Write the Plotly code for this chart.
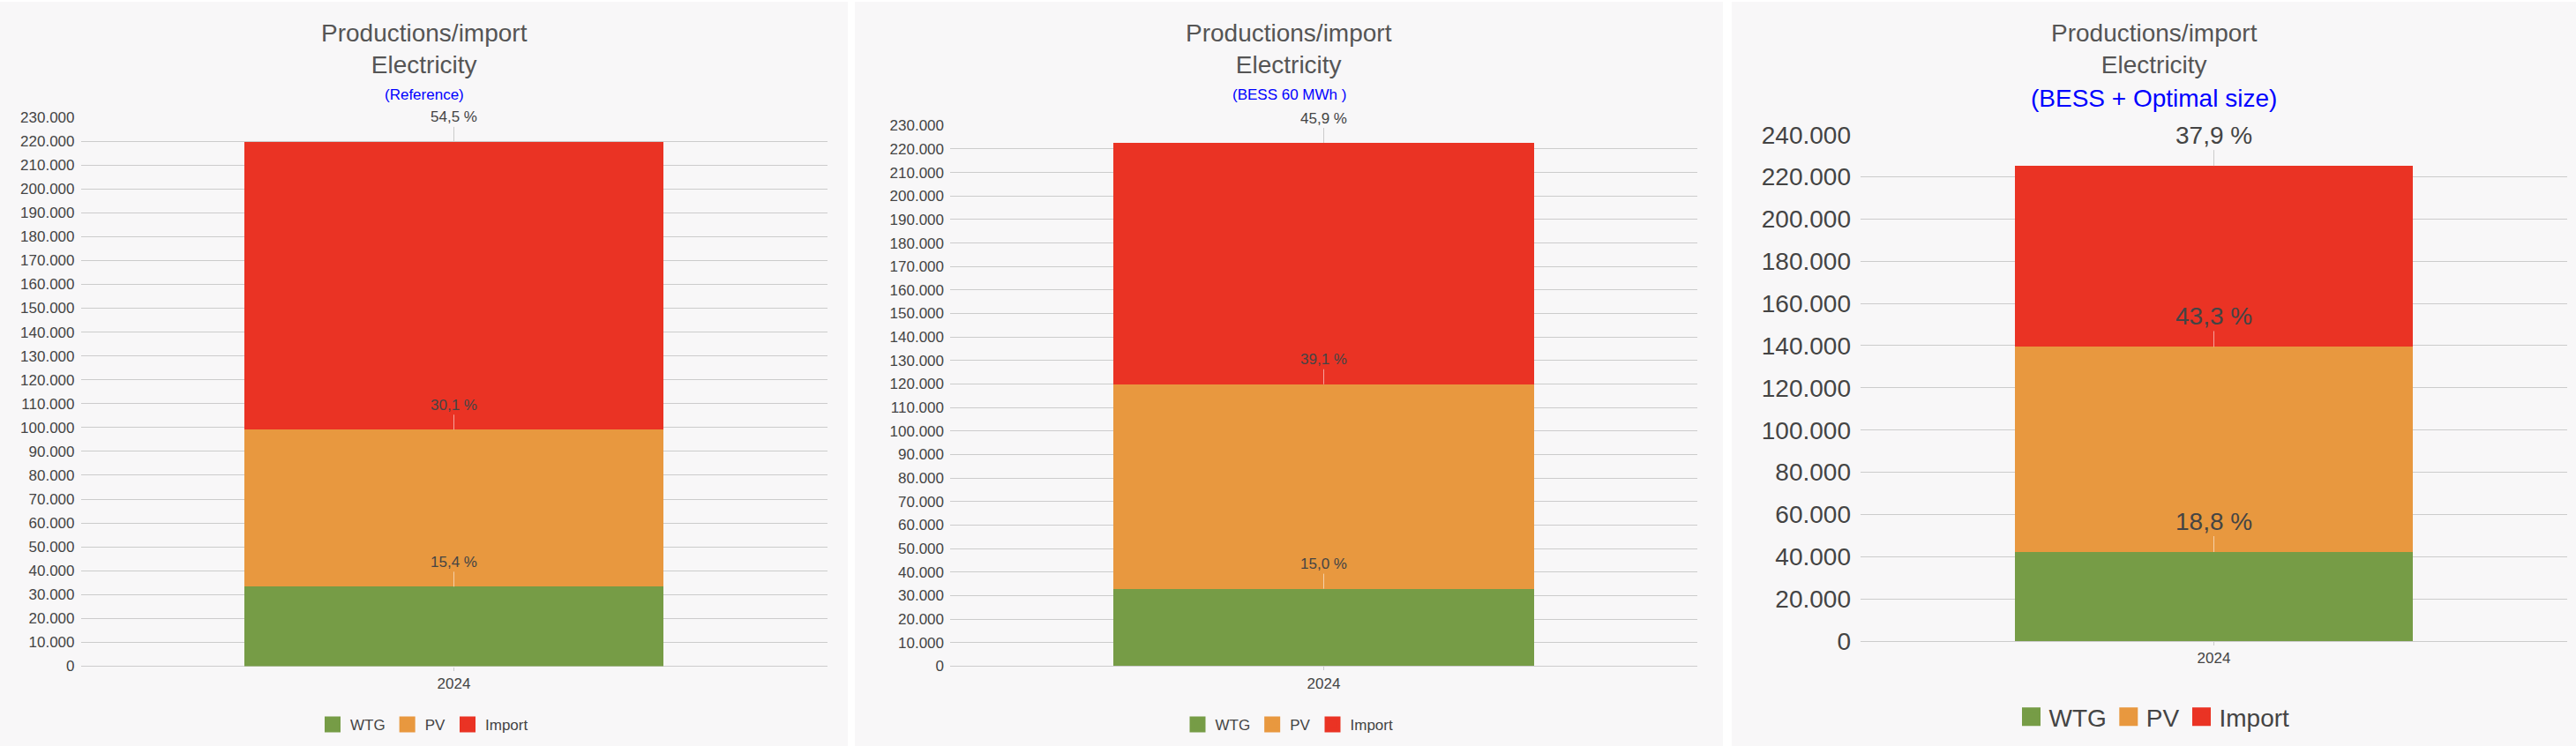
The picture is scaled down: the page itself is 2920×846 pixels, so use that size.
import plotly.graph_objects as go

W, H = 2920, 846

# ---------------- data ----------------
years = ["2024"]
series = ["WTG", "PV", "Import"]
series_colors = ["#769c46", "#e8983f", "#ea3324"]
scenarios = ["(Reference)", "(BESS 60 MWh )", "(BESS + Optimal size)"]

wtg = [33300, 32900, 42200]
pv = [65800, 87000, 97200]
imp = [120600, 102700, 85800]

share_wtg = ["15,4 %", "15,0 %", "18,8 %"]
share_pv = ["30,1 %", "39,1 %", "43,3 %"]
share_imp = ["54,5 %", "45,9 %", "37,9 %"]

y_max = [230000, 230000, 240000]
y_step = [10000, 10000, 20000]

title_lines = "Productions/import<br>Electricity"

# ---------------- layout constants (pixels) ----------------
panels = [
    dict(bg=(0, 961), plot=(91.5, 937.5, 133, 755.5), fs=17, lab_off=28, sub_y=107,
         leg_y=822, msize=13, standoff=6),
    dict(bg=(969, 1953), plot=(1077, 1924, 142.3, 755.3), fs=17, lab_off=28, sub_y=107,
         leg_y=822, msize=13, standoff=6),
    dict(bg=(1963, 2920), plot=(2109, 2910, 152.7, 727), fs=28, lab_off=35, sub_y=111,
         leg_y=813, msize=16, standoff=10),
]

FONT = "Liberation Sans, Arial, sans-serif"
TXT = "#444444"
TITLE_C = "#555555"
GRID = "#cccccc"
BAR_W = 0.5625

fig = go.Figure()
shapes = []
annotations = []
layout = {}

values = [wtg, pv, imp]
shares = [share_wtg, share_pv, share_imp]

for i, p in enumerate(panels):
    n = "" if i == 0 else str(i + 1)
    xa, ya = "x" + n, "y" + n
    leg = "legend" + n
    x0, x1, y0, y1 = p["plot"]
    fs = p["fs"]

    # panel background
    shapes.append(dict(type="rect", xref="paper", yref="paper", layer="below",
                       x0=p["bg"][0] / W, x1=p["bg"][1] / W, y0=0, y1=1 - 2 / H,
                       fillcolor="#f8f7f8", line=dict(width=0)))

    cum = 0
    for k, s in enumerate(series):
        v = values[k][i]
        fig.add_trace(go.Bar(x=years, y=[v], name=s, marker=dict(color=series_colors[k], line=dict(width=0)),
                             width=BAR_W, xaxis=xa, yaxis=ya, showlegend=False, hoverinfo="skip"))
        cum += v
        stem = "#cccccc" if k == len(series) - 1 else "rgba(255,255,255,0.55)"
        annotations.append(dict(xref=xa, yref=ya, x=0, y=cum, text=shares[k][i],
                                showarrow=True, arrowhead=0, arrowwidth=1, arrowcolor=stem,
                                ax=0, ay=-p["lab_off"], standoff=0, xanchor="center",
                                font=dict(family=FONT, size=fs, color=TXT)))
        # legend entry
        fig.add_trace(go.Scatter(x=[None], y=[None], mode="markers", name=s, legend=leg,
                                 marker=dict(symbol="square", size=p["msize"], color=series_colors[k],
                                             line=dict(width=5, color=series_colors[k])),
                                 xaxis=xa, yaxis=ya, hoverinfo="skip"))

    layout["xaxis" + n] = dict(domain=[x0 / W, x1 / W], anchor=ya, type="category",
                               range=[-0.5, 0.5], showgrid=False, zeroline=False,
                               ticks="outside", ticklen=4, tickcolor=GRID,
                               tickfont=dict(family=FONT, size=17, color=TXT), fixedrange=True,
                               automargin=False)
    layout["yaxis" + n] = dict(domain=[1 - y1 / H, 1 - y0 / H], anchor=xa,
                               range=[0, y_max[i]], dtick=y_step[i], tick0=0,
                               tickformat=",d", showgrid=True, gridcolor=GRID, gridwidth=1,
                               zeroline=True, zerolinecolor=GRID, zerolinewidth=1,
                               showline=False, ticks="", ticklabelstandoff=p["standoff"],
                               tickfont=dict(family=FONT, size=fs, color=TXT), fixedrange=True,
                               automargin=False)

    cx = (p["bg"][0] + p["bg"][1]) / 2 / W
    annotations.append(dict(xref="paper", yref="paper", x=cx, y=1 - 56 / H,
                            xanchor="center", yanchor="middle",
                            text=title_lines, showarrow=False,
                            font=dict(family=FONT, size=28, color=TITLE_C)))
    annotations.append(dict(xref="paper", yref="paper", x=cx, y=1 - p["sub_y"] / H,
                            xanchor="center", yanchor="middle",
                            text=scenarios[i], showarrow=False,
                            font=dict(family=FONT, size=fs, color="#0000ff")))

    layout[leg] = dict(orientation="h", x=cx, xanchor="center", y=1 - p["leg_y"] / H,
                       yanchor="middle", bgcolor="rgba(0,0,0,0)", traceorder="normal",
                       font=dict(family=FONT, size=fs, color=TXT), itemclick=False,
                       itemdoubleclick=False)

fig.update_layout(
    width=W, height=H, margin=dict(l=0, r=0, t=0, b=0, autoexpand=False),
    paper_bgcolor="#ffffff", plot_bgcolor="rgba(0,0,0,0)",
    barmode="stack", separators=",.", shapes=shapes, annotations=annotations,
    font=dict(family=FONT, color=TXT), **layout,
)

fig.write_html("out.html", config={"displayModeBar": False})
